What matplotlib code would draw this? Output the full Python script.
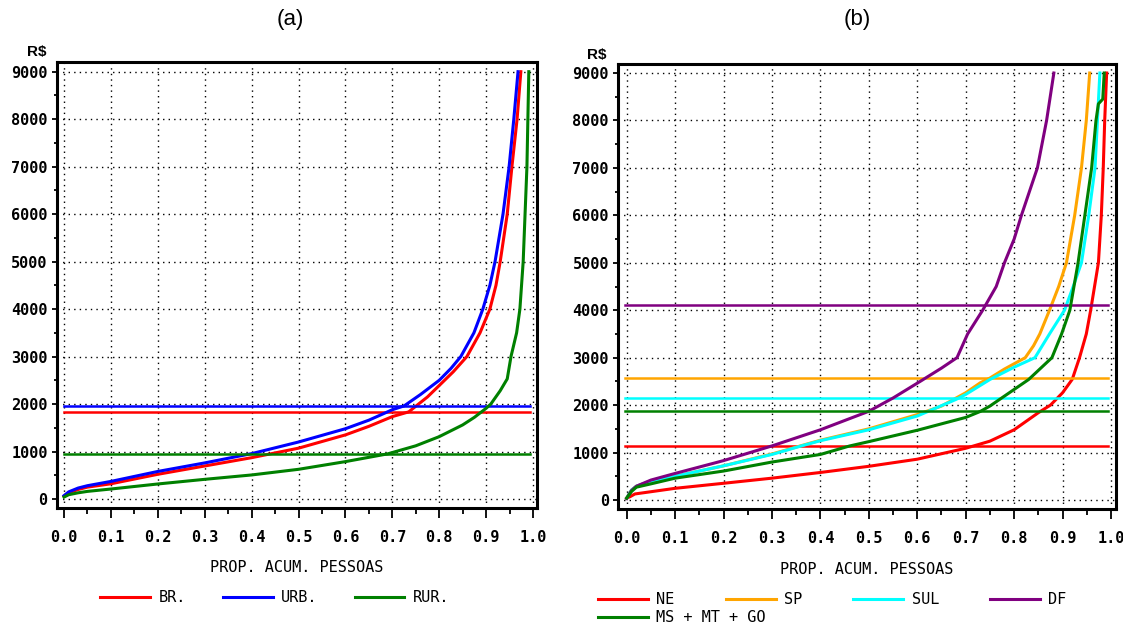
import matplotlib
matplotlib.use("Agg")
import matplotlib.pyplot as plt
from matplotlib.ticker import MultipleLocator, FormatStrFormatter

# ---- painel (a): BR / URB / RUR ----
br_x = [0.0, 0.01, 0.03, 0.05, 0.1, 0.2, 0.3, 0.4, 0.5, 0.6, 0.65, 0.7, 0.735, 0.775, 0.8, 0.83, 0.859, 0.887,
        0.908, 0.921, 0.93, 0.945, 0.955, 0.966, 0.974]
br_y = [60, 130, 200, 250, 320, 520, 695, 870, 1070, 1350, 1530, 1735, 1835, 2150, 2390, 2680, 3000, 3500,
        4000, 4500, 5000, 6000, 7000, 8000, 9000]

urb_x = [0.0, 0.01, 0.03, 0.05, 0.1, 0.2, 0.3, 0.4, 0.5, 0.6, 0.65, 0.7, 0.725, 0.76, 0.8, 0.825, 0.846, 0.874,
         0.893, 0.908, 0.919, 0.936, 0.949, 0.959, 0.968]
urb_y = [70, 150, 230, 280, 370, 580, 760, 955, 1200, 1480, 1660, 1880, 1960, 2200, 2500, 2750, 3000, 3500,
         4000, 4500, 5000, 6000, 7000, 8000, 9000]

rur_x = [0.0, 0.01, 0.03, 0.05, 0.1, 0.2, 0.3, 0.4, 0.5, 0.6, 0.69, 0.75, 0.8, 0.85, 0.875, 0.9, 0.91, 0.93,
         0.945, 0.953, 0.965, 0.972, 0.979, 0.983, 0.987, 0.991]
rur_y = [40, 90, 130, 160, 210, 316, 414, 506, 625, 787, 950, 1120, 1313, 1560, 1720, 1910, 2000, 2280,
         2530, 3000, 3500, 4000, 5000, 6000, 7000, 9000]

means_a = [1835, 1960, 950]
labels_a = ["BR.", "URB.", "RUR."]
colors_a = ["#ff0000", "#0000ff", "#008000"]

# ---- painel (b): regioes ----
ne_x = [0.0, 0.007, 0.017, 0.1, 0.2, 0.3, 0.4, 0.5, 0.6, 0.7, 0.75, 0.8, 0.85, 0.875, 0.9, 0.92, 0.935, 0.949,
        0.958, 0.974, 0.980, 0.984, 0.987, 0.991]
ne_y = [40, 70, 127, 246, 352, 460, 580, 710, 860, 1090, 1240, 1480, 1840, 2000, 2260, 2544, 3000, 3500,
        4000, 5000, 6000, 7000, 8000, 9000]

sp_x = [0.0, 0.005, 0.01, 0.02, 0.05, 0.1, 0.2, 0.3, 0.4, 0.5, 0.6, 0.65, 0.7, 0.73, 0.75, 0.78, 0.823, 0.84,
        0.853, 0.873, 0.892, 0.908, 0.925, 0.939, 0.949, 0.956]
sp_y = [40, 130, 210, 290, 400, 500, 720, 970, 1260, 1500, 1800, 1980, 2260, 2470, 2570, 2760, 3000, 3250,
        3500, 4000, 4500, 5000, 6000, 7000, 8000, 9000]

sul_x = [0.0, 0.005, 0.01, 0.02, 0.05, 0.1, 0.2, 0.3, 0.36, 0.4, 0.5, 0.6, 0.68, 0.7, 0.75, 0.8, 0.843, 0.873,
         0.904, 0.922, 0.939, 0.954, 0.967, 0.972, 0.977]
sul_y = [40, 130, 210, 290, 400, 500, 720, 960, 1138, 1250, 1480, 1770, 2120, 2225, 2540, 2800, 3000, 3500,
         4000, 4500, 5000, 6000, 7000, 8000, 9000]

df_x = [0.0, 0.005, 0.01, 0.02, 0.05, 0.1, 0.2, 0.3, 0.4, 0.5, 0.55, 0.606, 0.65, 0.682, 0.704, 0.735, 0.763,
        0.78, 0.8, 0.815, 0.848, 0.867, 0.882]
df_y = [30, 120, 200, 290, 420, 560, 830, 1140, 1480, 1870, 2150, 2500, 2780, 3000, 3500, 4000, 4500,
        5000, 5500, 6000, 7000, 8000, 9000]

co_x = [0.0, 0.005, 0.01, 0.02, 0.05, 0.1, 0.2, 0.3, 0.4, 0.46, 0.5, 0.6, 0.7, 0.73, 0.75, 0.8, 0.83, 0.878,
        0.898, 0.915, 0.932, 0.946, 0.96, 0.969, 0.974, 0.983, 0.986]
co_y = [40, 110, 180, 270, 340, 460, 610, 800, 960, 1138, 1230, 1470, 1740, 1866, 1980, 2330, 2540, 3000,
        3500, 4000, 5000, 6000, 7000, 8000, 8350, 8450, 9000]

means_b = [1138, 2570, 2155, 4110, 1866]
labels_b = ["NE", "SP", "SUL", "DF", "MS + MT + GO"]
colors_b = ["#ff0000", "#ffa500", "#00ffff", "#800080", "#008000"]

plt.rcParams['font.family'] = ['DejaVu Sans Mono']
MONO = 'DejaVu Sans Mono'
SANS = 'Liberation Sans'

fig = plt.figure(figsize=(11.23, 6.25), dpi=100)
ax_a = fig.add_axes([0.0505, 0.1872, 0.4277, 0.7136])
ax_b = fig.add_axes([0.5503, 0.1856, 0.4432, 0.7120])


def style_axes(ax, xlim, ylim):
    ax.set_xlim(*xlim)
    ax.set_ylim(*ylim)
    ax.xaxis.set_major_locator(MultipleLocator(0.1))
    ax.xaxis.set_minor_locator(MultipleLocator(0.05))
    ax.yaxis.set_major_locator(MultipleLocator(1000))
    ax.yaxis.set_minor_locator(MultipleLocator(500))
    ax.xaxis.set_major_formatter(FormatStrFormatter('%.1f'))
    ax.yaxis.set_major_formatter(FormatStrFormatter('%d'))
    ax.grid(True, which='major', color='black', linestyle=(0, (1, 3)), linewidth=1.0)
    ax.set_axisbelow(True)
    for s in ax.spines.values():
        s.set_linewidth(2.2)
    ax.tick_params(axis='x', which='major', direction='out', length=7, width=1.3, pad=9, labelsize=11)
    ax.tick_params(axis='x', which='minor', direction='out', length=4, width=1.3)
    ax.tick_params(axis='y', which='major', direction='out', length=3.5, width=1.3, pad=3, labelsize=11)
    ax.tick_params(axis='y', which='minor', direction='out', length=2.5, width=1.3)
    for lab in ax.get_xticklabels() + ax.get_yticklabels():
        lab.set_fontfamily(MONO)
        lab.set_fontweight('bold')
    ax.set_xlabel('PROP. ACUM. PESSOAS', fontsize=11, family=MONO, labelpad=11)


style_axes(ax_a, (-0.0156, 1.0085), (-190, 9204))
style_axes(ax_b, (-0.018, 1.0097), (-190, 9190))

# curvas (a)
series_a = [(br_x, br_y), (urb_x, urb_y), (rur_x, rur_y)]
for (xs, ys), m, c, lab in zip(series_a, means_a, colors_a, labels_a):
    ax_a.plot(xs, ys, color=c, lw=2.2, label=lab)
    ax_a.axhline(m, xmin=0.015, xmax=0.985, color=c, lw=1.8)

# curvas (b)
series_b = [(ne_x, ne_y), (sp_x, sp_y), (sul_x, sul_y), (df_x, df_y), (co_x, co_y)]
lines_b = []
for (xs, ys), m, c, lab in zip(series_b, means_b, colors_b, labels_b):
    ln, = ax_b.plot(xs, ys, color=c, lw=2.2, label=lab)
    lines_b.append(ln)
    ax_b.axhline(m, xmin=0.015, xmax=0.985, color=c, lw=1.8)

leg_kw = dict(frameon=False, loc='center left', borderpad=0, borderaxespad=0,
              handlelength=3.27, handletextpad=0.55, prop={'family': MONO, 'size': 11},
              bbox_transform=fig.transFigure)

ax_a.legend(ncol=3, columnspacing=2.42, bbox_to_anchor=(100 / 1123, 1 - 598 / 625), **leg_kw)

leg1 = ax_b.legend(lines_b[:4], labels_b[:4], ncol=4, columnspacing=3.34,
                   bbox_to_anchor=(598 / 1123, 1 - 600 / 625), **leg_kw)
ax_b.add_artist(leg1)
ax_b.legend(lines_b[4:], labels_b[4:], bbox_to_anchor=(598 / 1123, 1 - 618 / 625), **leg_kw)

fig.text(37 / 1123, 1 - 52 / 625, 'R$', ha='center', va='center', fontsize=11, fontweight='bold', family=SANS)
fig.text(597 / 1123, 1 - 55 / 625, 'R$', ha='center', va='center', fontsize=11, fontweight='bold', family=SANS)
fig.text(290 / 1123, 1 - 20 / 625, '(a)', ha='center', va='center', fontsize=16, family=SANS)
fig.text(857 / 1123, 1 - 20 / 625, '(b)', ha='center', va='center', fontsize=16, family=SANS)

fig.savefig('out.png', dpi=100)
